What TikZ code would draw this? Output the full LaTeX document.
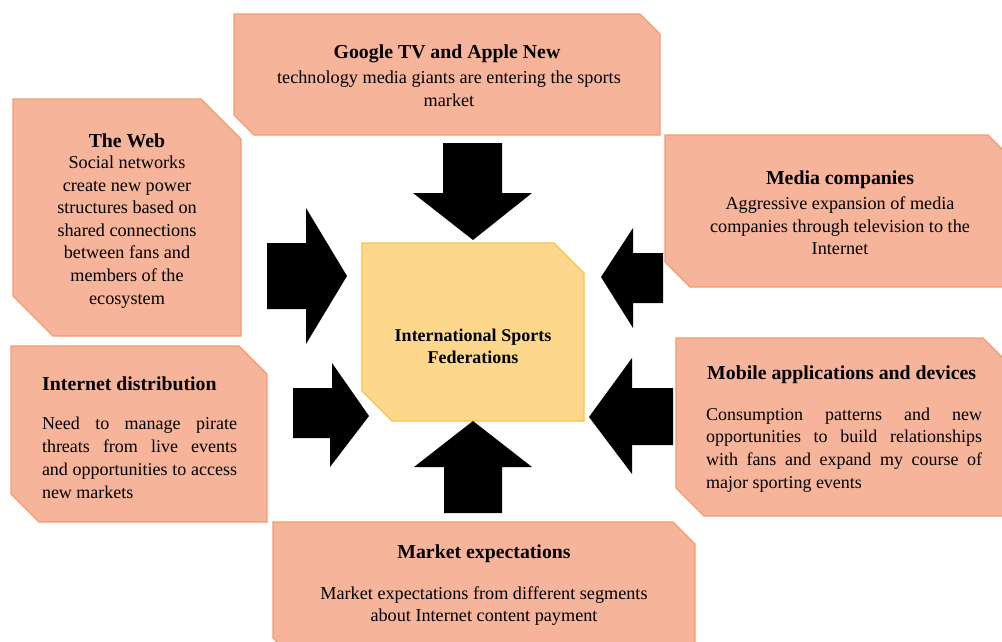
\documentclass[tikz,border=0pt]{standalone}
\usepackage{fontspec}
\setmainfont{Liberation Serif}
\definecolor{salfill}{HTML}{F6B49A}
\definecolor{saledge}{HTML}{F29C6E}
\definecolor{yelfill}{HTML}{FDD88C}
\definecolor{yeledge}{HTML}{F5C540}
\tikzset{
  boxshape/.style={fill=salfill, draw=saledge, line width=1.2pt},
  centershape/.style={fill=yelfill, draw=yeledge, line width=1.2pt},
  blockarrow/.style={fill=black, draw=none},
  titletext/.style={font=\fontsize{19.8}{22.6}\selectfont\bfseries, inner sep=0pt, align=center},
  bodytext/.style={font=\fontsize{18.2}{22.6}\selectfont, inner sep=0pt, align=center},
  justtext/.style={font=\fontsize{18}{22.8}\selectfont, inner sep=0pt, align=justify},
}
\newcommand\cutbox[7]{%
  \path[#7] (#2,#3) -- (#4-#6,#3) -- (#4,#3+#6) -- (#4,#5) -- (#2+#6,#5) -- (#2,#5-#6) -- cycle;
  \coordinate (#1) at ({(#2+#4)/2},{(#3+#5)/2});}
\begin{document}
\begin{tikzpicture}[x=1pt,y=-1pt]
\useasboundingbox (0,0) rectangle (1002,641);
\clip (0,0) rectangle (1002,641);
% boxes
\cutbox{google}{234}{14}{660}{135}{20}{boxshape}
\cutbox{web}{13}{99}{241}{336}{40}{boxshape}
\cutbox{media}{665}{135}{1013}{287}{25}{boxshape}
\cutbox{mobile}{676}{338}{1011}{516}{28}{boxshape}
\cutbox{inet}{11}{346}{267}{522}{28}{boxshape}
\cutbox{market}{273}{522}{695}{660}{22}{boxshape}
\cutbox{isf}{362}{243}{584}{421}{30}{centershape}
% arrows
\fill[blockarrow] (443,143) -- (502,143) -- (502,193) -- (532,193) -- (473,240) -- (413,193) -- (443,193) -- cycle;
\fill[blockarrow] (267,243) -- (306,243) -- (306,208) -- (347,276) -- (306,344) -- (306,309) -- (267,309) -- cycle;
\fill[blockarrow] (293,388) -- (332,388) -- (332,363) -- (369,416) -- (330,467) -- (330,438) -- (293,438) -- cycle;
\fill[blockarrow] (601,277) -- (633,228) -- (633,253) -- (663,253) -- (663,303) -- (633,303) -- (633,328) -- cycle;
\fill[blockarrow] (589,417) -- (632,358) -- (632,388) -- (673,388) -- (673,445) -- (632,445) -- (632,474) -- cycle;
\fill[blockarrow] (473,421) -- (532,467) -- (502,467) -- (502,513) -- (444,513) -- (444,467) -- (414,467) -- cycle;
% texts
\node[titletext] (gtitle) at (447,54) {Google TV and Apple New};
\node[bodytext] (gbody) at (449,89) {technology media giants are entering the sports\\market};
\node[titletext] (wtitle) at (127,141) {The Web};
\node[bodytext] (wbody) at (127,232) {Social networks\\create new power\\structures based on\\shared connections\\between fans and\\members of the\\ecosystem};
\node[titletext] (mtitle) at (840,180) {Media companies};
\node[bodytext] (mbody) at (840,226) {Aggressive expansion of media\\companies through television to the\\Internet};
\node[titletext, anchor=west] (motitle) at (707,375) {Mobile applications and devices};
\node[justtext, text width=276pt] (mobody) at (844,450) {Consumption patterns and new\linebreak opportunities to build relationships\linebreak with fans and expand my course of\linebreak major sporting events};
\node[titletext, anchor=west] (ititle) at (42,384) {Internet distribution};
\node[justtext, text width=195pt] (ibody) at (139.5,458) {Need to manage pirate\linebreak threats from live events\linebreak and opportunities to access\linebreak new markets};
\node[titletext] (mktitle) at (484,554) {Market expectations};
\node[bodytext] (mkbody) at (484,606) {Market expectations from different segments\\about Internet content payment};
\node[titletext, font=\fontsize{18}{22}\selectfont\bfseries] (isftext) at (473,346) {International Sports\\Federations};
\end{tikzpicture}
\end{document}
